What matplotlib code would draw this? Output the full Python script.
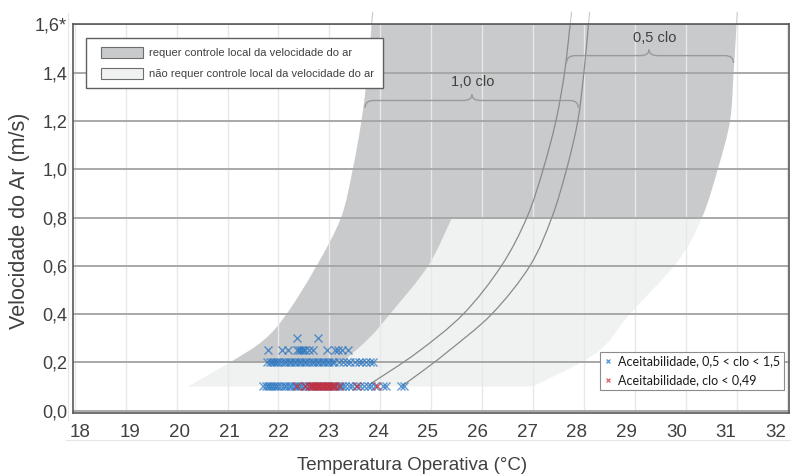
import matplotlib
matplotlib.use('Agg')
import matplotlib.pyplot as plt
from matplotlib.path import Path
from matplotlib.patches import PathPatch, Patch
from matplotlib.lines import Line2D
from matplotlib.legend_handler import HandlerPatch
import numpy as np

SANS = ['Liberation Sans', 'DejaVu Sans']
plt.rcParams['font.family'] = SANS

# ---------------- data ----------------
temp_ticks = list(range(18, 33))
temp_tick_labels = [str(t) for t in temp_ticks]
speed_ticks = [0.0, 0.2, 0.4, 0.6, 0.8, 1.0, 1.2, 1.4, 1.6]
speed_tick_labels = ['0,0', '0,2', '0,4', '0,6', '0,8', '1,0', '1,2', '1,4', '1,6*']

# comfort zone outer boundaries (temperature, air speed)
outer_left_T = [20.22, 21.05, 21.70, 22.16, 22.75, 23.23, 23.46, 23.63, 23.75, 23.83]
outer_left_V = [0.10, 0.20, 0.29, 0.40, 0.60, 0.80, 1.00, 1.20, 1.40, 1.60]
outer_right_T = [27.00, 28.25, 28.90, 29.85, 30.32, 30.63, 30.87, 30.94, 31.00]
outer_right_V = [0.10, 0.24, 0.40, 0.62, 0.80, 1.00, 1.20, 1.40, 1.60]
# right edge of the low-speed band that requires local control
band_right_T = [23.25, 23.78, 24.19, 24.94, 25.41]
band_right_V = [0.20, 0.30, 0.40, 0.60, 0.80]
local_control_speed = 0.8

# inner clo limit curves
clo05_left_T = [23.80, 24.72, 25.63, 26.38, 26.88, 27.20, 27.45, 27.62, 27.73]
clo05_left_V = [0.11, 0.24, 0.40, 0.60, 0.80, 1.00, 1.20, 1.40, 1.60]
clo10_right_T = [24.45, 24.78, 25.30, 26.19, 26.94, 27.37, 27.66, 27.88, 28.00, 28.09]
clo10_right_V = [0.106, 0.156, 0.24, 0.40, 0.60, 0.80, 1.00, 1.20, 1.40, 1.60]

# braces: start T, end T, tip T, end V, label
brace_start_T = [23.70, 27.66]
brace_end_T = [27.89, 30.94]
brace_tip_T = [25.80, 29.28]
brace_end_V = [1.255, 1.441]
brace_labels = ['1,0 clo', '0,5 clo']
brace_label_T = [25.82, 29.40]

# measurements
blue_T_010 = [21.70, 21.76, 21.80, 21.84, 21.88, 21.92, 21.96, 22.00, 22.05, 22.10,
              22.15, 22.20, 22.25, 22.30, 22.35, 22.40, 22.45, 22.50, 22.55, 22.60,
              22.65, 22.70, 22.75, 22.80, 22.85, 22.90, 22.95, 23.00, 23.05, 23.10,
              23.15, 23.20, 23.25, 23.30, 23.38, 23.45, 23.52, 23.60, 23.68, 23.75,
              23.82, 23.90, 24.05, 24.12, 24.40, 24.47]
blue_T_020 = [21.78, 21.84, 21.88, 21.92, 21.96, 22.00, 22.05, 22.10, 22.15, 22.20,
              22.25, 22.30, 22.35, 22.40, 22.45, 22.50, 22.55, 22.60, 22.65, 22.70,
              22.75, 22.80, 22.85, 22.90, 22.95, 23.00, 23.05, 23.10, 23.18, 23.26,
              23.34, 23.40, 23.50, 23.58, 23.65, 23.72, 23.80, 23.86]
blue_T_025 = [21.80, 22.06, 22.19, 22.36, 22.40, 22.44, 22.48, 22.53, 22.60, 22.68,
              22.95, 23.11, 23.17, 23.25, 23.37]
blue_T_030 = [22.36, 22.77]
red_T_010 = [22.36, 22.52, 22.60, 22.64, 22.68, 22.72, 22.76, 22.80, 22.84, 22.88,
             22.92, 22.96, 23.00, 23.04, 23.08, 23.12, 23.18, 23.54, 23.93]

legend_zone_labels = ['requer controle local da velocidade do ar',
                      'não requer controle local da velocidade do ar']
legend_point_labels = ['Aceitabilidade, 0,5 < clo < 1,5', 'Aceitabilidade, clo < 0,49']

# ---------------- styles ----------------
DARK = '#c9cacc'
LIGHT = '#f0f1f1'
TXT = '#404040'
BLUE = '#2472c0'
RED = '#d02630'


def smooth_segments(T, V):
    P = np.column_stack([T, V]).astype(float)
    verts, codes = [], []
    n = len(P)
    for i in range(n - 1):
        p0 = P[i - 1] if i > 0 else P[i]
        p1, p2 = P[i], P[i + 1]
        p3 = P[i + 2] if i + 2 < n else P[i + 1]
        c1 = p1 + (p2 - p0) / 6.0
        c2 = p2 - (p3 - p1) / 6.0
        verts += [tuple(c1), tuple(c2), tuple(p2)]
        codes += [Path.CURVE4] * 3
    return verts, codes


def build_path(pieces):
    verts, codes = [], []
    for kind, T, V in pieces:
        start = (T[0], V[0])
        verts.append(start)
        codes.append(Path.MOVETO if not codes else Path.LINETO)
        if kind == 'smooth':
            v, c = smooth_segments(T, V)
            verts += v; codes += c
        else:
            for t, s in zip(T[1:], V[1:]):
                verts.append((t, s)); codes.append(Path.LINETO)
    verts.append(verts[0]); codes.append(Path.CLOSEPOLY)
    return Path(verts, codes)


fig = plt.figure(figsize=(7.95, 4.76), dpi=100)
ax = fig.add_axes([0.09145, 0.13235, 0.9010, 0.8162])
ax.set_xlim(17.957, 32.03)
ax.set_ylim(-0.01, 1.6)

# union of comfort zones (light)
union = build_path([
    ('smooth', outer_left_T, outer_left_V),
    ('smooth', outer_right_T[::-1], outer_right_V[::-1]),
])
ax.add_patch(PathPatch(union, facecolor=LIGHT, edgecolor='none', zorder=0.2))

# dark part: requires local control
dark = PathPatch(union, facecolor=DARK, edgecolor='none', zorder=0.3)
ax.add_patch(dark)
clip_path = build_path([
    ('line', [17.0, band_right_T[0]], [band_right_V[0], band_right_V[0]]),
    ('smooth', band_right_T, band_right_V),
    ('line', [band_right_T[-1], 33.0, 33.0, 17.0],
     [local_control_speed, local_control_speed, speed_ticks[-1], speed_ticks[-1]]),
])
clip_patch = PathPatch(clip_path, transform=ax.transData, facecolor='none', edgecolor='none')
dark.set_clip_path(clip_patch)

# clo limit curves
for T, V in [(clo05_left_T, clo05_left_V), (clo10_right_T, clo10_right_V)]:
    v, c = smooth_segments(T, V)
    p = Path([(T[0], V[0])] + v, [Path.MOVETO] + c)
    ax.add_patch(PathPatch(p, facecolor='none', edgecolor='#8a8a8a', lw=0.9, zorder=2))

# faint extensions above the frame
for T, V in [(outer_left_T, outer_left_V), (clo05_left_T, clo05_left_V),
             (clo10_right_T, clo10_right_V), (outer_right_T, outer_right_V)]:
    dT = (T[-1] - T[-2]) / (V[-1] - V[-2])
    ax.plot([T[-1], T[-1] + dT * 0.05], [V[-1], V[-1] + 0.05], color='#c8c8c8',
            lw=0.8, clip_on=False, zorder=2)

# braces
for t0, t1, tm, ve, lab, tl in zip(brace_start_T, brace_end_T, brace_tip_T,
                                    brace_end_V, brace_labels, brace_label_T):
    vl = ve + 0.03
    vt = ve + 0.055
    dx = 0.17
    verts = [(t0, ve), (t0, vl), (t0 + dx, vl), (tm - dx, vl), (tm, vl), (tm, vt),
             (tm, vt), (tm, vl), (tm + dx, vl), (t1 - dx, vl), (t1, vl), (t1, ve)]
    codes = [Path.MOVETO, Path.CURVE3, Path.CURVE3, Path.LINETO, Path.CURVE3, Path.CURVE3,
             Path.MOVETO, Path.CURVE3, Path.CURVE3, Path.LINETO, Path.CURVE3, Path.CURVE3]
    ax.add_patch(PathPatch(Path(verts, codes), facecolor='none', edgecolor='#9a9a9a',
                           lw=1.0, zorder=2.5))
    ax.text(tl, vt + 0.05, lab, ha='center', va='center', fontsize=10.5, color=TXT,
            zorder=3)

# measurements
mk = dict(marker='x', linestyle='none', markersize=5.8, mew=1.0, zorder=4)
for speed, temps in [(0.1, blue_T_010), (0.2, blue_T_020), (0.25, blue_T_025),
                     (0.3, blue_T_030)]:
    ax.plot(temps, [speed] * len(temps), color=BLUE, alpha=0.7, **mk)
ax.plot(red_T_010, [0.1] * len(red_T_010), color=RED, alpha=0.7, **mk)

# axes styling
ax.set_xticks(temp_ticks)
ax.set_yticks(speed_ticks)
ax.set_yticklabels(speed_tick_labels)
ax.tick_params(axis='both', length=0, colors=TXT, labelsize=13)
ax.tick_params(axis='x', labelbottom=False)
ax.tick_params(axis='y', pad=4)
ax.set_axisbelow(True)
ax.grid(axis='y', color='#a8a8a8', lw=1.4)
ax.grid(axis='x', color='#e8e8e8', lw=1.0)
for s in ax.spines.values():
    s.set_color('#595959')
    s.set_linewidth(1.2)

# temperature labels are set on a slightly tighter spacing than the grid (as in the original)
LBL_SCALE = 50.9 / 49.7
LBL_OFFSET = 96.7 / 49.7


def grid_to_label(t):
    return 18 + LBL_OFFSET + (np.asarray(t) - 20) * LBL_SCALE


def label_to_grid(t):
    return 20 + (np.asarray(t) - 18 - LBL_OFFSET) / LBL_SCALE


secx = ax.secondary_xaxis('bottom', functions=(grid_to_label, label_to_grid))
secx.set_xticks(temp_ticks)
secx.set_xticklabels(temp_tick_labels)
secx.tick_params(length=0, colors=TXT, labelsize=13.5, pad=8)
secx.spines['bottom'].set_visible(False)

ax.set_xlabel('Temperatura Operativa (°C)', fontsize=13.5, color=TXT)
ax.set_ylabel('Velocidade do Ar (m/s)', fontsize=15.5, color=TXT)
ax.xaxis.set_label_coords(0.4737, -0.114)
ax.yaxis.set_label_coords(-0.060, 0.494)

# legends
zone_handles = [Patch(facecolor=DARK, edgecolor='#6d6d6d', lw=0.8),
                Patch(facecolor=LIGHT, edgecolor='#6d6d6d', lw=0.8)]
leg1 = ax.legend(zone_handles, legend_zone_labels, loc='upper left',
                 bbox_to_anchor=(0.0186, 0.966), borderaxespad=0, fancybox=False,
                 edgecolor='#606060', framealpha=1, prop=dict(family=SANS, size=8.0),
                 handlelength=4.3, handleheight=1.12, handletextpad=0.5,
                 labelspacing=0.85, borderpad=0.85, labelcolor=TXT,
                 handler_map={Patch: HandlerPatch(xpad=0.5)})
leg1.get_frame().set_linewidth(1.0)
ax.add_artist(leg1)

point_handles = [Line2D([], [], marker='x', ls='none', color='#5aa0e0', markersize=3.5, mew=1),
                 Line2D([], [], marker='x', ls='none', color='#e0707a', markersize=3.5, mew=1)]
leg2 = ax.legend(point_handles, legend_point_labels, loc='upper left',
                 bbox_to_anchor=(0.736, 0.158), borderaxespad=0, fancybox=False,
                 edgecolor='#8c8c8c', framealpha=1,
                 prop=dict(family=['Lato', 'DejaVu Sans'], size=9),
                 handlelength=0.58, handletextpad=0.53, labelspacing=0.55,
                 borderpad=0.32, labelcolor='#1a1a1a')
leg2.get_frame().set_linewidth(0.8)

# faint frame lines of the original composition
fig.add_artist(Line2D([68 / 795, 68 / 795], [1 - 13 / 476, 1 - 420 / 476],
                      transform=fig.transFigure, color='#e6e6e6', lw=0.8))
fig.add_artist(Line2D([66 / 795, 790 / 795], [1 - 440 / 476, 1 - 440 / 476],
                      transform=fig.transFigure, color='#e6e6e6', lw=0.8))

fig.savefig('out.png', dpi=100)
